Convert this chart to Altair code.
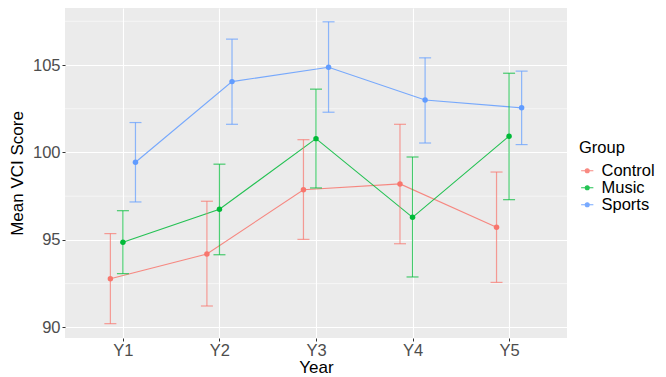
import altair as alt
import pandas as pd

years = ["Y1", "Y2", "Y3", "Y4", "Y5"]
groups = ["Control", "Music", "Sports"]
colors = ["#F8766D", "#00BA38", "#619CFF"]

control_mean = [92.78, 94.19, 97.87, 98.20, 95.72]
control_lo = [90.21, 91.22, 95.03, 94.78, 92.57]
control_hi = [95.36, 97.21, 100.73, 101.61, 98.88]

music_mean = [94.86, 96.75, 100.79, 96.29, 100.93]
music_lo = [93.07, 94.15, 97.97, 92.88, 97.30]
music_hi = [96.67, 99.33, 103.62, 99.74, 104.53]

sports_mean = [99.44, 104.05, 104.87, 103.00, 102.55]
sports_lo = [97.17, 101.61, 102.30, 100.54, 100.45]
sports_hi = [101.71, 106.48, 107.47, 105.41, 104.65]

y_major = [90, 95, 100, 105]
y_minor = [92.5, 97.5, 102.5, 107.5]

series = {
    "Control": (control_mean, control_lo, control_hi),
    "Music": (music_mean, music_lo, music_hi),
    "Sports": (sports_mean, sports_lo, sports_hi),
}
rows = []
for gi, g in enumerate(groups):
    m, lo, hi = series[g]
    for yi, yr in enumerate(years):
        rows.append({"year": yr, "idx": yi + 1, "group": g, "gi": gi,
                     "mean": m[yi], "lo": lo[yi], "hi": hi[yi]})
df = pd.DataFrame(rows)

DODGE = 0.13
xscale = alt.Scale(domain=[0.4, 5.6], nice=False, zero=False)
yscale = alt.Scale(domain=[89.39, 108.26], nice=False, zero=False)
cscale = alt.Scale(domain=groups, range=colors)

legend_path = "M-1,0L1,0M-0.32,0A0.32,0.32,0,1,1,0.32,0A0.32,0.32,0,1,1,-0.32,0Z"


def make_legend():
    return alt.Legend(title="Group", orient="none", legendX=514, legendY=132,
                      titleFontSize=16.5, titleFontWeight="normal",
                      titleColor="black", titlePadding=6,
                      labelFontSize=16.5, labelColor="black",
                      symbolType=legend_path, symbolSize=150,
                      symbolStrokeWidth=1.2, rowPadding=0,
                      labelOffset=6)


def color_enc():
    return alt.Color("group:N", scale=cscale, legend=make_legend())


base = alt.Chart(df).transform_calculate(
    xpos=f"datum.idx + (datum.gi - 1) * {DODGE}"
)

x_enc = alt.X("xpos:Q", scale=xscale, title="Year",
              axis=alt.Axis(values=[1, 2, 3, 4, 5], labelExpr="'Y' + datum.value",
                            grid=True, gridColor="white", gridWidth=1.1,
                            domain=False, tickColor="#333333", tickSize=3,
                            labelColor="#4D4D4D", labelFontSize=16.5, labelPadding=1,
                            titleFontSize=17, titleColor="black", titlePadding=1,
                            titleFontWeight="normal"))
y_enc = alt.Y("mean:Q", scale=yscale, title="Mean VCI Score",
              axis=alt.Axis(values=y_major, grid=True, gridColor="white", gridWidth=1.1,
                            domain=False, tickColor="#333333", tickSize=3,
                            labelColor="#4D4D4D", labelFontSize=16.5, labelPadding=2,
                            titleFontSize=17, titleColor="black", titlePadding=6,
                            titleFontWeight="normal"))

minor = alt.Chart(pd.DataFrame({"v": y_minor})).mark_rule(
    color="white", strokeWidth=0.55
).encode(y=alt.Y("v:Q", scale=yscale))

lines = base.mark_line(strokeWidth=1.1, opacity=0.85).encode(
    x=x_enc, y=y_enc,
    color=color_enc(),
    detail="group:N", order="idx:Q",
)

rules = base.mark_rule(strokeWidth=1.2, opacity=0.7).encode(
    x="xpos:Q", y=alt.Y("lo:Q", scale=yscale), y2="hi:Q",
    color=color_enc(),
)
caps_lo = base.mark_tick(orient="horizontal", size=12, thickness=1.2, opacity=0.7).encode(
    x="xpos:Q", y=alt.Y("lo:Q", scale=yscale),
    color=color_enc(),
)
caps_hi = base.mark_tick(orient="horizontal", size=12, thickness=1.2, opacity=0.7).encode(
    x="xpos:Q", y=alt.Y("hi:Q", scale=yscale),
    color=color_enc(),
)

points = base.mark_point(filled=True, size=30, opacity=1).encode(
    x="xpos:Q", y=alt.Y("mean:Q", scale=yscale),
    color=color_enc(),
)

chart = alt.layer(minor, lines, rules, caps_lo, caps_hi, points).properties(
    width=502, height=330,
    autosize=alt.AutoSizeParams(type="none"),
    padding={"left": 57, "top": 0, "right": 91, "bottom": 45},
).configure(
    font="Liberation Sans"
).configure_view(
    fill="#EBEBEB", stroke=None
)

chart.save("out.html", embed_options={"renderer": "svg", "actions": False})
